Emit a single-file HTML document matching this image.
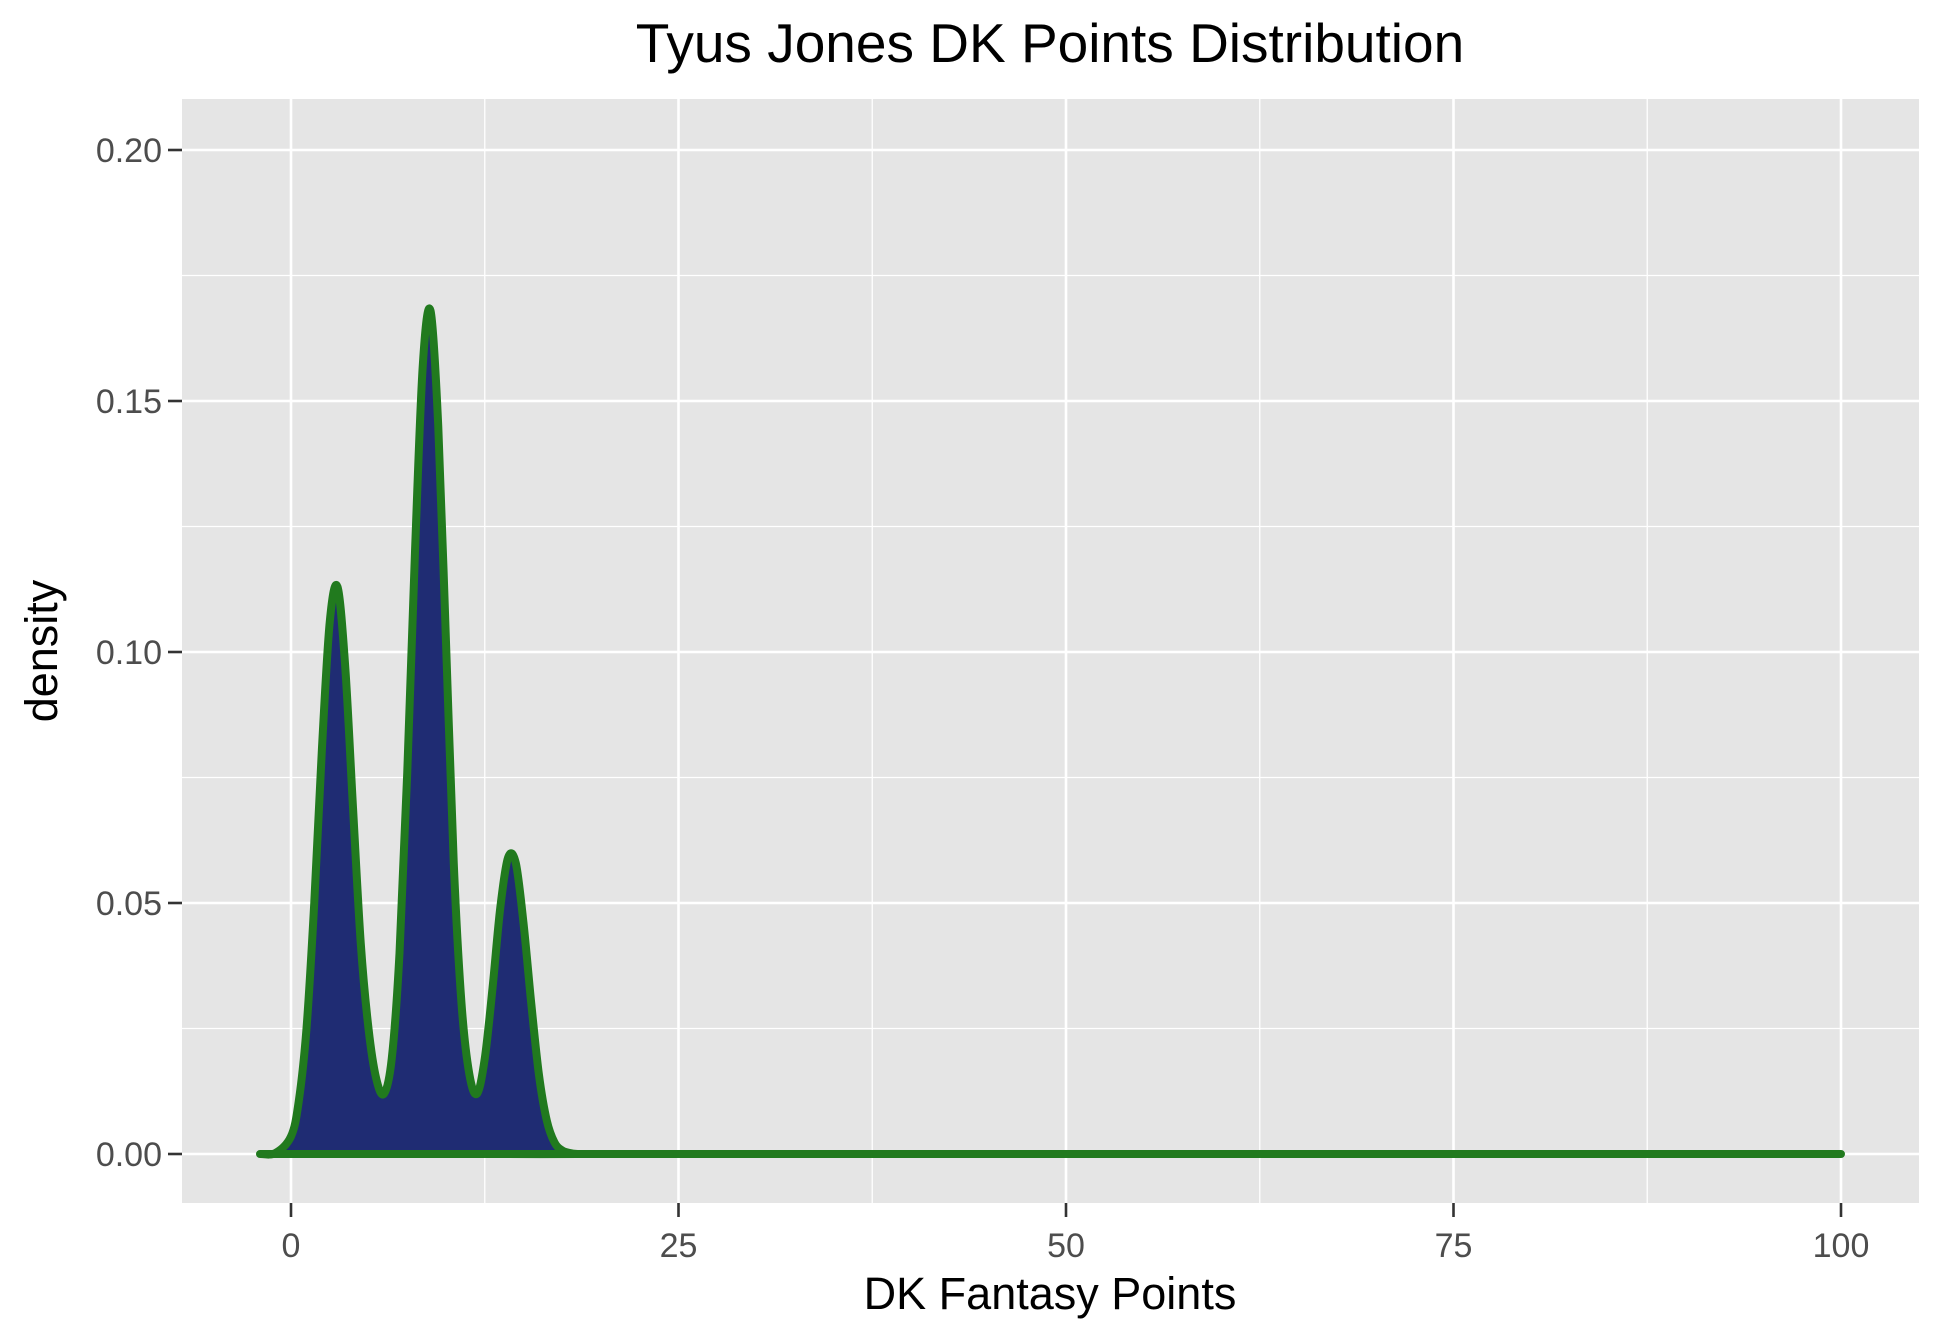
<!DOCTYPE html>
<html><head><meta charset="utf-8"><style>
body{margin:0;background:#fff}
svg{display:block;font-family:"Liberation Sans",Arial,sans-serif}
</style></head><body>
<svg id="chart" width="1941" height="1341" viewBox="0 0 1941 1341" xmlns="http://www.w3.org/2000/svg">
<rect x="182" y="99" width="1737" height="1104" fill="#e5e5e5"/>
<g id="grid"></g>
<g id="marks"></g>
<g id="axes"></g>
<text x="1050" y="62" text-anchor="middle" font-size="55" fill="#000">Tyus Jones DK Points Distribution</text>
<text x="1050" y="1309" text-anchor="middle" font-size="45" fill="#000">DK Fantasy Points</text>
<text transform="translate(57,651) rotate(-90)" text-anchor="middle" font-size="45" fill="#000">density</text>
</svg>
<script>
const xs = [-2,-1,0,0.5,1,1.5,2,2.5,3,3.5,4,4.5,5,5.5,6,6.5,7,7.5,8,8.5,9,9.5,10,10.5,11,11.5,12,12.5,13,13.5,14,14.5,15,15.5,16,16.5,17,17.5,18,18.5,20,100];
const density = [0,0.0002,0.0035,0.0105,0.025,0.05,0.081,0.106,0.113,0.097,0.069,0.042,0.025,0.015,0.012,0.019,0.04,0.076,0.12,0.157,0.168,0.145,0.102,0.058,0.03,0.016,0.012,0.019,0.033,0.049,0.059,0.058,0.046,0.03,0.0157,0.0067,0.0023,0.0007,0.0002,0,0,0];
const xTicks = [0,25,50,75,100];
const yTicks = [0,0.05,0.10,0.15,0.20];
const yTickLabels = ["0.00","0.05","0.10","0.15","0.20"];

const X = v => 291 + v*15.5;
const Y = v => 1154 - v*5020;
const NS = "http://www.w3.org/2000/svg";
function mk(tag, attrs, parent){const e=document.createElementNS(NS,tag);for(const k in attrs)e.setAttribute(k,attrs[k]);parent.appendChild(e);return e;}
const grid=document.getElementById('grid'), marks=document.getElementById('marks'), axes=document.getElementById('axes');
for(let i=0;i<xTicks.length-1;i++){const m=(xTicks[i]+xTicks[i+1])/2;
  const l=mk('line',{x1:X(m),x2:X(m),y1:99,y2:1203,stroke:'#fff','stroke-width':1.3},grid);
  
  }
for(let i=0;i<yTicks.length-1;i++){const m=(yTicks[i]+yTicks[i+1])/2;
  const l=mk('line',{x1:182,x2:1919,y1:Y(m),y2:Y(m),stroke:'#fff','stroke-width':1.3},grid);
  
  }
xTicks.forEach(t=>{
  const l=mk('line',{x1:X(t),x2:X(t),y1:99,y2:1203,stroke:'#fff','stroke-width':2.6},grid);
  
  
  const tk=mk('line',{x1:X(t),x2:X(t),y1:1203,y2:1217,stroke:'#333','stroke-width':2.6},axes);
  
  
  const tx=mk('text',{x:X(t),y:1257,'text-anchor':'middle','font-size':34,fill:'#4d4d4d'},axes);
  tx.textContent=t;
  
  
});
yTicks.forEach((t,i)=>{
  const l=mk('line',{x1:182,x2:1919,y1:Y(t),y2:Y(t),stroke:'#fff','stroke-width':2.6},grid);
  
  
  const tk=mk('line',{x1:168,x2:182,y1:Y(t),y2:Y(t),stroke:'#333','stroke-width':2.6},axes);
  
  
  const tx=mk('text',{x:162,y:Y(t)+12,'text-anchor':'end','font-size':34,fill:'#4d4d4d'},axes);
  tx.textContent=yTickLabels[i];
  
  
});
function smooth(pts){let d='M'+pts[0][0]+','+pts[0][1];
  for(let i=0;i<pts.length-1;i++){const p0=pts[i-1]||pts[i],p1=pts[i],p2=pts[i+1],p3=pts[i+2]||p2;
    const c1=[p1[0]+(p2[0]-p0[0])/6,p1[1]+(p2[1]-p0[1])/6],c2=[p2[0]-(p3[0]-p1[0])/6,p2[1]-(p3[1]-p1[1])/6];
    if(p2[0]-p1[0]>100){d+=' L'+p2[0]+','+p2[1];}else d+=' C'+c1[0]+','+c1[1]+' '+c2[0]+','+c2[1]+' '+p2[0]+','+p2[1];}
  return d;}
const pts=xs.map((x,i)=>[X(x),Y(density[i])]);
const lineD=smooth(pts);
const area=mk('path',{d:lineD+' L'+X(xs[xs.length-1])+','+Y(0)+' L'+X(xs[0])+','+Y(0)+' Z',fill:'#1f2c73'},marks);


const line=mk('path',{d:lineD+' L'+X(xs[0])+','+Y(0),fill:'none',stroke:'#217a1e','stroke-width':8,'stroke-linejoin':'round','stroke-linecap':'round'},marks);


</script>
</body></html>
